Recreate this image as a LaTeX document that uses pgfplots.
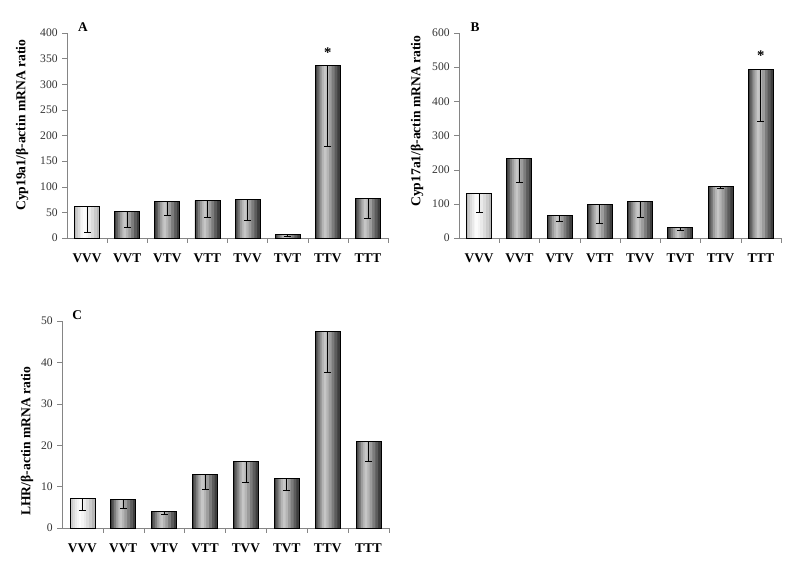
\documentclass[border=0pt]{standalone}
\usepackage{pgfplots}
\usepackage{pgfplotstable}
\pgfplotsset{compat=1.18}
\usepackage{fontspec}
\setmainfont{Liberation Serif}
\definecolor{axisGray}{HTML}{858585}
% dark bar cylinder tones (edge -> highlight)
\definecolor{dA}{HTML}{3E3E3E}
\definecolor{dB}{HTML}{5C5C5C}
\definecolor{dC}{HTML}{7C7C7C}
\definecolor{dD}{HTML}{9C9C9C}
\definecolor{dE}{HTML}{B4B4B4}
\definecolor{dF}{HTML}{C6C6C6}
% light bar tones
\definecolor{lA}{HTML}{B8B8B8}
\definecolor{lB}{HTML}{CBCBCB}
\definecolor{lC}{HTML}{DCDCDC}
\definecolor{lD}{HTML}{EAEAEA}
\definecolor{lE}{HTML}{F4F4F4}
\definecolor{lF}{HTML}{FBFBFB}

% Panel A: Cyp19a1 (y = mean, e = lower error)
\pgfplotstableread{
x y e
0 61.5 51.5
1 51 29.5
2 71 26
3 73 32
4 75 40
5 6.5 2.5
6 337 158
7 77 39
}\dataA
% Panel B: Cyp17a1
\pgfplotstableread{
x y e
0 130 54
1 233 71
2 67 18
3 98 56
4 106 45
5 30 8
6 150 5
7 493 152
}\dataB
% Panel C: LHR
\pgfplotstableread{
x y e
0 7.2 3.0
1 6.9 2.2
2 3.9 0.5
3 13.0 3.7
4 16.0 5.1
5 12.0 2.9
6 47.4 9.8
7 20.9 4.8
}\dataC

\pgfplotsset{
  panel/.style={
    scale only axis,
    anchor=south west,
    clip=false,
    axis x line*=bottom, axis y line*=left,
    axis line style={axisGray},
    xmin=-0.5, xmax=7.5, ymin=0,
    xtick={0,...,7},
    xticklabels={VVV,VVT,VTV,VTT,TVV,TVT,TTV,TTT},
    major x tick style={draw=none},
    minor xtick={0.5,1.5,2.5,3.5,4.5,5.5,6.5,7.5},
    minor x tick style={axisGray},
    minor tick length=3.5pt,
    major tick length=3.5pt,
    tick align=outside,
    y tick style={axisGray},
    xticklabel style={font=\fontsize{10}{12}\selectfont\bfseries, yshift=-5pt},
    yticklabel style={font=\fontsize{8.7}{9}\selectfont, text=black!80},
    ylabel style={font=\fontsize{10.2}{11}\selectfont\bfseries, anchor=center},
    /pgf/number format/assume math mode=true,
    ybar,
  },
  lay/.style n args={3}{ybar, draw=none, fill=#1, bar width=#2, bar shift=#3},
}

% cylinder-like bars: concentric layers of the same bars, then outline + error bars
\newcommand\cylbars[5]{% #1 table, #2 domain, #3-#5 unused prefix letters
  \addplot[lay={#3A}{18.75pt}{0pt}, restrict x to domain=#2] table[x=x,y=y]{#1};
  \addplot[lay={#3B}{15.5pt}{-0.5pt}, restrict x to domain=#2] table[x=x,y=y]{#1};
  \addplot[lay={#3C}{12pt}{-0.9pt}, restrict x to domain=#2] table[x=x,y=y]{#1};
  \addplot[lay={#3D}{8.5pt}{-1.3pt}, restrict x to domain=#2] table[x=x,y=y]{#1};
  \addplot[lay={#3E}{5pt}{-1.7pt}, restrict x to domain=#2] table[x=x,y=y]{#1};
  \addplot[lay={#3F}{2pt}{-1.9pt}, restrict x to domain=#2] table[x=x,y=y]{#1};
  \addplot[ybar, bar width=18.75pt, bar shift=0pt, fill=none, draw=black, line width=0.6pt,
    restrict x to domain=#2,
    error bars/.cd, y dir=minus, y explicit,
    error bar style={black, line width=0.6pt},
    error mark=-,
    error mark options={black, rotate=90, mark size=2.6pt, line width=0.6pt}]
    table[x=x, y=y, y error=e]{#1};
}
\newcommand\allbars[1]{\cylbars{#1}{0:0}{l}{}{}\cylbars{#1}{1:7}{d}{}{}}

\begin{document}
\begin{tikzpicture}
\useasboundingbox (0,0) rectangle (600pt,423.75pt);

% Panel A
\begin{axis}[panel, at={(50.25pt,245.25pt)}, width=240.75pt, height=153.75pt,
  ymax=400, ytick={0,50,...,400},
  ylabel={Cyp19a1/β-actin mRNA ratio},
  ylabel style={at={(axis description cs:-0.140,0.55)}}]
\allbars{\dataA}
\node[font=\fontsize{11}{11}\selectfont\bfseries] at (axis cs:6,362) {*};
\node[font=\fontsize{10}{10}\selectfont\bfseries] at (axis cs:-0.1,412) {A};
\end{axis}

% Panel B
\begin{axis}[panel, at={(344.25pt,245.25pt)}, width=241.5pt, height=153.75pt,
  ymax=600, ytick={0,100,...,600},
  ylabel={Cyp17a1/β-actin mRNA ratio},
  ylabel style={at={(axis description cs:-0.130,0.57)}}]
\allbars{\dataB}
\node[font=\fontsize{11}{11}\selectfont\bfseries] at (axis cs:7,535) {*};
\node[font=\fontsize{10}{10}\selectfont\bfseries] at (axis cs:-0.1,617) {B};
\end{axis}

% Panel C
\begin{axis}[panel, at={(46.5pt,27.75pt)}, width=245.25pt, height=155.25pt,
  ymax=50, ytick={0,10,...,50},
  ylabel={LHR/β-actin mRNA ratio},
  ylabel style={at={(axis description cs:-0.107,0.42)}}]
\allbars{\dataC}
\node[font=\fontsize{10}{10}\selectfont\bfseries] at (axis cs:-0.13,51.4) {C};
\end{axis}
\end{tikzpicture}
\end{document}
